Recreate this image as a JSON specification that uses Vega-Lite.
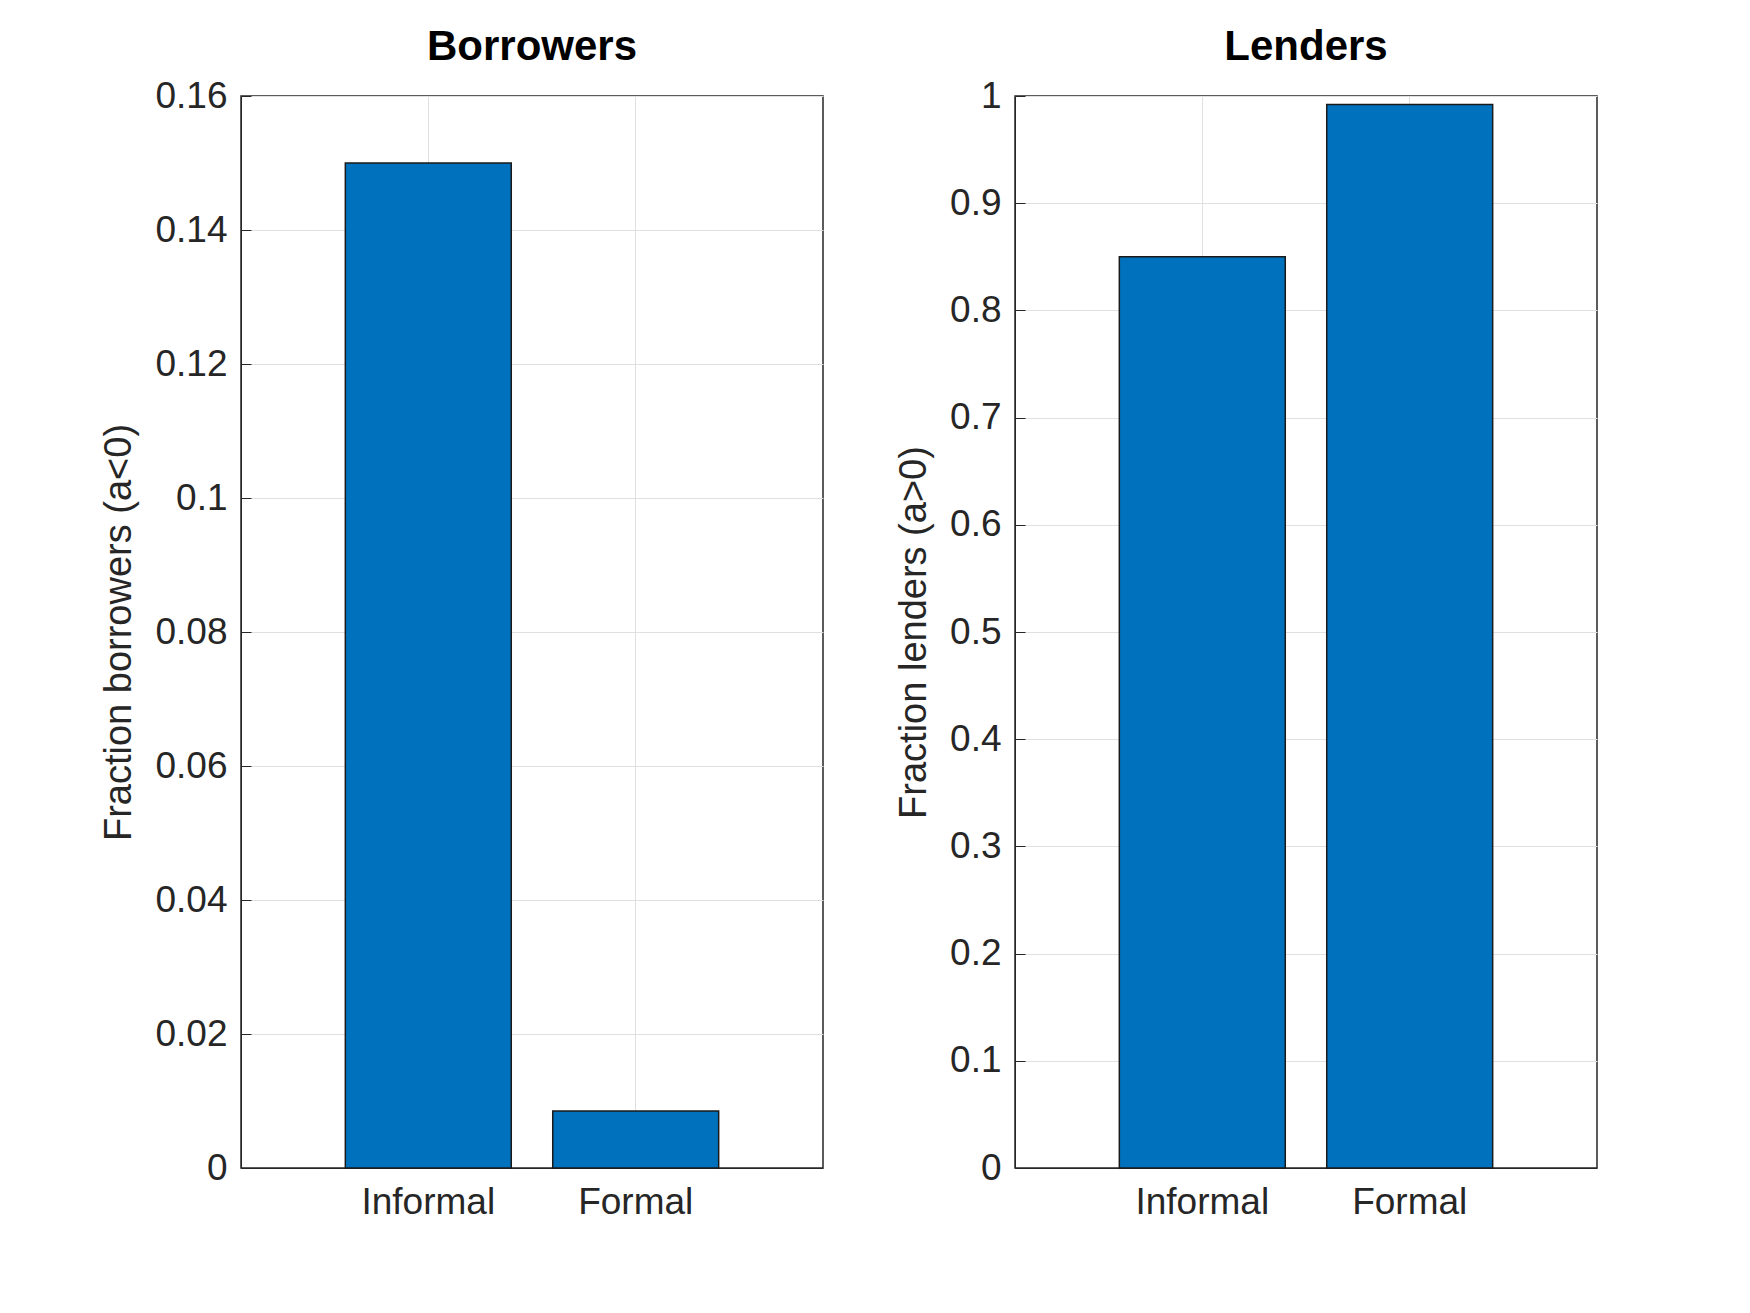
{
  "$schema": "https://vega.github.io/schema/vega-lite/v6.json",
  "background": "white",
  "padding": {"left": 100, "top": 25, "right": 20, "bottom": 20},
  "spacing": 70,
  "datasets": {
    "borrowers": [
      {"type": "Informal", "frac": 0.150},
      {"type": "Formal", "frac": 0.0085}
    ],
    "lenders": [
      {"type": "Informal", "frac": 0.850},
      {"type": "Formal", "frac": 0.992}
    ]
  },
  "hconcat": [
    {
      "width": 582,
      "height": 1072,
      "data": {"name": "borrowers"},
      "title": "Borrowers",
      "mark": {"type": "bar", "fill": "#0072BD", "stroke": "#1a1a1a", "strokeWidth": 1.5},
      "encoding": {
        "x": {
          "field": "type", "type": "nominal", "sort": ["Informal", "Formal"],
          "scale": {"paddingInner": 0.2, "paddingOuter": 0.503},
          "axis": {"title": null, "labelAngle": 0, "bandPosition": 0.5, "labelPadding": 26}
        },
        "y": {
          "field": "frac", "type": "quantitative",
          "scale": {"domain": [0, 0.16], "nice": false},
          "axis": {"title": "Fraction borrowers (a<0)", "values": [0, 0.02, 0.04, 0.06, 0.08, 0.1, 0.12, 0.14, 0.16], "format": ".2~f"}
        }
      }
    },
    {
      "width": 582,
      "height": 1072,
      "data": {"name": "lenders"},
      "title": "Lenders",
      "mark": {"type": "bar", "fill": "#0072BD", "stroke": "#1a1a1a", "strokeWidth": 1.5},
      "encoding": {
        "x": {
          "field": "type", "type": "nominal", "sort": ["Informal", "Formal"],
          "scale": {"paddingInner": 0.2, "paddingOuter": 0.503},
          "axis": {"title": null, "labelAngle": 0, "bandPosition": 0.5, "labelPadding": 26}
        },
        "y": {
          "field": "frac", "type": "quantitative",
          "scale": {"domain": [0, 1], "nice": false},
          "axis": {"title": "Fraction lenders (a>0)", "values": [0, 0.1, 0.2, 0.3, 0.4, 0.5, 0.6, 0.7, 0.8, 0.9, 1], "format": ".1~f"}
        }
      }
    }
  ],
  "config": {
    "font": "Liberation Sans",
    "view": {"stroke": "#262626", "strokeWidth": 1.5},
    "title": {"fontSize": 42, "fontWeight": "bold", "color": "#000000", "offset": 8},
    "axis": {
      "labelFont": "Liberation Sans",
      "labelFontSize": 37,
      "labelColor": "#262626",
      "titleFont": "Liberation Sans",
      "titleFontSize": 38,
      "titleFontWeight": "normal",
      "titleColor": "#262626",
      "titlePadding": 16,
      "labelPadding": 24,
      "domainColor": "#262626",
      "tickColor": "#262626",
      "tickSize": -10,
      "gridColor": "#e0e0e0",
      "grid": true
    }
  }
}
